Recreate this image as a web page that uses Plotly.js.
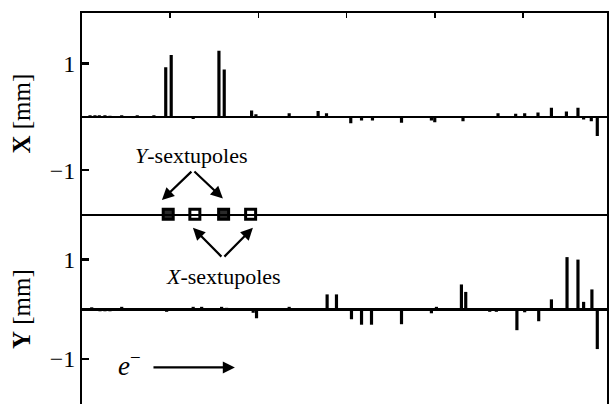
<!DOCTYPE html>
<html><head><meta charset="utf-8">
<script src="https://cdn.plot.ly/plotly-3.0.1.min.js"></script>
<style>html,body{margin:0;padding:0;background:#fff}</style>
</head><body><div id="chart" style="width:611px;height:404px"></div>
<script>
// Positions along the beamline (arbitrary units, tick every 100)
const sX = [9.1,14.7,19.6,26,31.7,45,62.6,81.5,94.9,101.1,126,155.2,161.2,192.2,197.1,234.8,267.6,277.1,304.6,316.8,329.2,362.1,396,399.8,431.8,471.5,491.5,501.7,516.8,532,549,562.1,568.5,577.2,584];
const xOrbit = [0.03,0.03,0.03,0.03,0.02,0.03,0.03,0.03,0.93,1.16,-0.04,1.24,0.89,0.12,0.05,0.07,0.11,0.07,-0.12,-0.07,-0.07,-0.11,-0.07,-0.1,-0.08,0.07,0.06,0.07,0.08,0.17,0.1,0.17,-0.05,-0.08,-0.36];
const sY = [11,20.4,26,31.7,45,95.9,126,135.6,158.2,163.9,194,197.8,234.8,277.8,288.4,305.4,316.8,328.1,362.1,396,401.7,430,434.9,462.1,469.6,492.9,501.7,517.6,532,549.7,562.1,568.5,577.9,584];
const yOrbit = [0.04,-0.04,-0.04,-0.04,0.05,-0.05,0.05,0.05,0.05,0.03,-0.07,-0.18,0.05,0.3,0.3,-0.2,-0.31,-0.31,-0.3,-0.08,0.05,0.5,0.35,-0.05,-0.05,-0.42,-0.06,-0.24,0.2,1.05,1.0,0.15,0.4,-0.8];
const ySextS = [97.7, 160.5];
const xSextS = [127.9, 191.1];
const sextLevelY = [-1.83, -1.83];
const sextLevelX = [-1.83, -1.83];
const xTicks = [100,200,300,400,500];
const yTicks = [-1, 1];

const FONT = 'Liberation Serif, Times New Roman, serif';
const traces = [
  {type:'bar', x:sX, y:xOrbit, xaxis:'x', yaxis:'y', width:3.6, marker:{color:'#000'}, hoverinfo:'skip'},
  {type:'bar', x:sY, y:yOrbit, xaxis:'x2', yaxis:'y2', width:3.6, marker:{color:'#000'}, hoverinfo:'skip'},
  {type:'scatter', mode:'markers', x:ySextS, y:sextLevelY, xaxis:'x', yaxis:'y', cliponaxis:false,
   marker:{symbol:'square', size:10, color:'#2a2a2a', line:{color:'#000', width:3}}},
  {type:'scatter', mode:'markers', x:xSextS, y:sextLevelX, xaxis:'x', yaxis:'y', cliponaxis:false,
   marker:{symbol:'square', size:10, color:'#fff', line:{color:'#000', width:3}}}
];

const yCommon = {showline:true, linewidth:2, linecolor:'#000', mirror:true, ticks:'inside', tickvals:yTicks,
  ticklen:7, tickwidth:2.5, tickcolor:'#000', showgrid:false, zeroline:true, zerolinewidth:2.5, zerolinecolor:'#000',
  tickfont:{family:FONT, size:24, color:'#000'}, fixedrange:true};

const arrowStyle = {showarrow:true, arrowhead:2, arrowsize:1.1, arrowwidth:2.2, arrowcolor:'#000', text:''};
const layout = {
  width:611, height:404, margin:{l:82, r:4, t:13, b:0}, showlegend:false,
  paper_bgcolor:'#fff', plot_bgcolor:'#fff', barmode:'overlay',
  font:{family:FONT, color:'#000'},
  xaxis:{domain:[0,1], range:[0,595], anchor:'y', side:'top', showline:true, linewidth:2, linecolor:'#000', mirror:true,
    ticks:'inside', tickvals:xTicks, ticklen:5, tickwidth:1.5, tickcolor:'#000', showticklabels:false, showgrid:false, zeroline:false},
  xaxis2:{domain:[0,1], range:[0,595], anchor:'y2', showline:false, ticks:'', showticklabels:false, showgrid:false, zeroline:false},
  yaxis:Object.assign({}, yCommon, {domain:[0.485,1], range:[-1.83,1.95], anchor:'x',
    title:{text:'<b>X</b> [mm]', font:{family:FONT, size:25, color:'#000'}, standoff:12}}),
  yaxis2:Object.assign({}, yCommon, {domain:[0,0.485], range:[-1.905,1.91], anchor:'x2',
    title:{text:'<b>Y</b> [mm]', font:{family:FONT, size:25, color:'#000'}, standoff:12}}),
  annotations:[
    {xref:'x', yref:'y', x:124, y:-0.72, text:'<i>Y</i>-sextupoles', showarrow:false, font:{family:FONT, size:22, color:'#000'}},
    Object.assign({xref:'x', yref:'y', x:90.6, y:-1.56, axref:'x', ayref:'y', ax:125.7, ay:-1.0}, arrowStyle),
    Object.assign({xref:'x', yref:'y', x:159.7, y:-1.53, axref:'x', ayref:'y', ax:125.7, ay:-1.0}, arrowStyle),
    {xref:'x2', yref:'y2', x:160.8, y:0.67, text:'<i>X</i>-sextupoles', showarrow:false, font:{family:FONT, size:22, color:'#000'}},
    Object.assign({xref:'x2', yref:'y2', x:125.7, y:1.64, axref:'x2', ayref:'y2', ax:159.7, ay:1.03}, arrowStyle),
    Object.assign({xref:'x2', yref:'y2', x:193.7, y:1.64, axref:'x2', ayref:'y2', ax:159.7, ay:1.03}, arrowStyle),
    {xref:'x2', yref:'y2', x:54, y:-1.1, text:'<i>e</i><sup>−</sup>', showarrow:false, font:{family:FONT, size:27, color:'#000'}},
    Object.assign({xref:'x2', yref:'y2', x:173.3, y:-1.17, axref:'x2', ayref:'y2', ax:79.3, ay:-1.17}, arrowStyle)
  ]
};
Plotly.newPlot('chart', traces, layout, {staticPlot:true, displayModeBar:false});
</script></body></html>
